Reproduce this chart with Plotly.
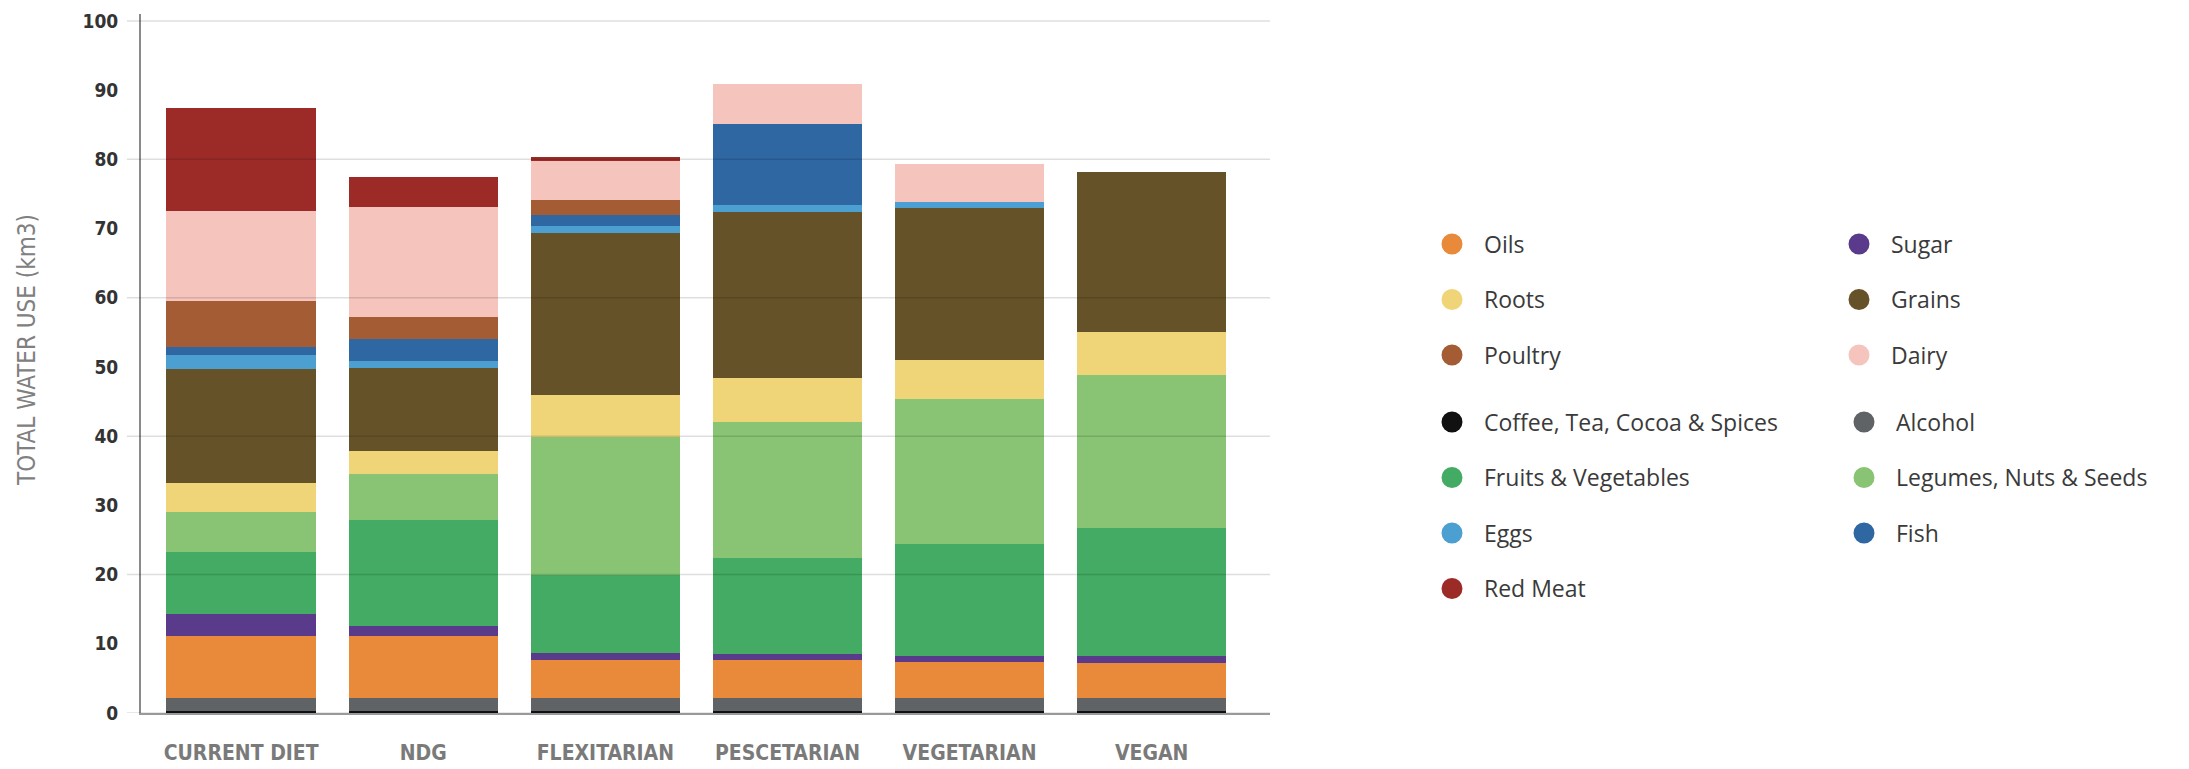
import plotly.graph_objects as go

# ---------------- data ----------------
diets = ["CURRENT DIET", "NDG", "FLEXITARIAN", "PESCETARIAN", "VEGETARIAN", "VEGAN"]

coffee_tea = [0.3, 0.3, 0.3, 0.3, 0.3, 0.3]
alcohol    = [1.9, 1.8, 1.8, 1.8, 1.8, 1.8]
oils       = [8.9, 9.0, 5.5, 5.5, 5.25, 5.15]
sugar      = [3.2, 1.4, 1.0, 0.9, 0.95, 1.05]
fruits_veg = [8.9, 15.4, 11.4, 13.85, 16.1, 18.4]
legumes    = [5.8, 6.6, 19.9, 19.7, 20.9, 22.2]
roots      = [4.3, 3.4, 6.1, 6.4, 5.75, 6.1]
grains     = [16.4, 12.0, 23.4, 23.9, 21.9, 23.2]
eggs       = [2.1, 1.0, 1.0, 1.1, 0.95, 0.0]
fish       = [1.1, 3.1, 1.6, 11.7, 0.0, 0.0]
poultry    = [6.6, 3.2, 2.15, 0.0, 0.0, 0.0]
dairy      = [13.1, 15.9, 5.55, 5.7, 5.4, 0.0]
red_meat   = [14.8, 4.3, 0.6, 0.0, 0.0, 0.0]

y_ticks = list(range(0, 101, 10))
grid_values = list(range(0, 101, 20))

# stacking order (bottom -> top): name, values, colour
stack = [
    ("Coffee, Tea, Cocoa & Spices", coffee_tea, "#111111"),
    ("Alcohol", alcohol, "#606365"),
    ("Oils", oils, "#E98A3B"),
    ("Sugar", sugar, "#5A3B8B"),
    ("Fruits & Vegetables", fruits_veg, "#43AB63"),
    ("Legumes, Nuts & Seeds", legumes, "#89C374"),
    ("Roots", roots, "#F0D478"),
    ("Grains", grains, "#665229"),
    ("Eggs", eggs, "#4C9FD1"),
    ("Fish", fish, "#2F67A3"),
    ("Poultry", poultry, "#A45C35"),
    ("Dairy", dairy, "#F4C4BD"),
    ("Red Meat", red_meat, "#9C2B28"),
]
colors = {n: c for n, _, c in stack}

# legend layout: (legend id, names in order)
legend_groups = [
    ("legend",  ["Oils", "Roots", "Poultry"]),
    ("legend2", ["Sugar", "Grains", "Dairy"]),
    ("legend3", ["Coffee, Tea, Cocoa & Spices", "Fruits & Vegetables", "Eggs", "Red Meat"]),
    ("legend4", ["Alcohol", "Legumes, Nuts & Seeds", "Fish"]),
]

NARROW = "DejaVu Sans Condensed, Liberation Sans Narrow, Arial Narrow, sans-serif"

fig = go.Figure()
for name, vals, col in stack:
    fig.add_trace(go.Bar(
        x=diets, y=vals, name=name, marker=dict(color=col, line=dict(width=0)),
        showlegend=False,
    ))

for leg, names in legend_groups:
    for n in names:
        fig.add_trace(go.Scatter(
            x=[None], y=[None], mode="markers", name=n, legend=leg, legendgroup=n,
            marker=dict(size=16, color=colors[n], line=dict(color=colors[n], width=5)),
            showlegend=True, hoverinfo="skip",
        ))

W, H = 2189, 769
ML, MR, MT, MB = 141, 919, 14, 56
pw = W - ML - MR
ph = H - MT - MB

def px_x(px):
    return (px - ML) / pw

def px_y(py):
    return 1 - (py - MT) / ph

LEG_FONT = 23
item_h = LEG_FONT * 1.3 + 3
first_off = 5 + item_h / 2

legend_common = dict(
    font=dict(family="Open Sans, sans-serif", size=LEG_FONT, color="#3a3a3a"),
    orientation="v", traceorder="grouped", tracegroupgap=55.5 - item_h,
    itemwidth=54, bgcolor="rgba(0,0,0,0)", borderwidth=0,
    xanchor="left", yanchor="top", itemclick=False, itemdoubleclick=False,
)

layout_legends = {
    "legend":  dict(x=px_x(1452 - 32), y=px_y(244 - first_off), **legend_common),
    "legend2": dict(x=px_x(1859 - 32), y=px_y(244 - first_off), **legend_common),
    "legend3": dict(x=px_x(1452 - 32), y=px_y(422 - first_off), **legend_common),
    "legend4": dict(x=px_x(1864 - 32), y=px_y(422 - first_off), **legend_common),
}

shapes = [
    dict(type="line", xref="paper", yref="y", x0=-0.0125, x1=1, y0=v, y1=v,
         line=dict(color="rgba(0,0,0,0.13)", width=1.5), layer="above")
    for v in grid_values
]

fig.update_layout(
    width=W, height=H,
    margin=dict(l=ML, r=MR, t=MT, b=MB, autoexpand=False),
    paper_bgcolor="white", plot_bgcolor="white",
    barmode="stack", bargap=0.18,
    showlegend=True,
    shapes=shapes,
    xaxis=dict(
        range=[-0.55, 5.65], showgrid=False, zeroline=False,
        showline=True, linecolor="#9a9a9a", linewidth=2,
        ticks="outside", ticklen=20, tickcolor="rgba(0,0,0,0)",
        tickfont=dict(family=NARROW, size=21, color="#7a7a7a", weight="bold"),
        fixedrange=True,
    ),
    yaxis=dict(
        range=[0, 101], tickvals=y_ticks, showgrid=False, zeroline=False,
        showline=True, linecolor="#8a8a8a", linewidth=2,
        ticks="outside", ticklen=17, tickcolor="rgba(0,0,0,0)",
        tickfont=dict(family=NARROW, size=19, color="#333333", weight="bold"),
        fixedrange=True,
    ),
    annotations=[dict(
        text="TOTAL WATER USE (km3)", xref="paper", yref="paper",
        x=px_x(27), y=px_y(350), xanchor="center", yanchor="middle",
        textangle=-90, showarrow=False,
        font=dict(family=NARROW, size=24, color="#808080"),
    )],
    **layout_legends,
)

fig.write_html("out.html")
